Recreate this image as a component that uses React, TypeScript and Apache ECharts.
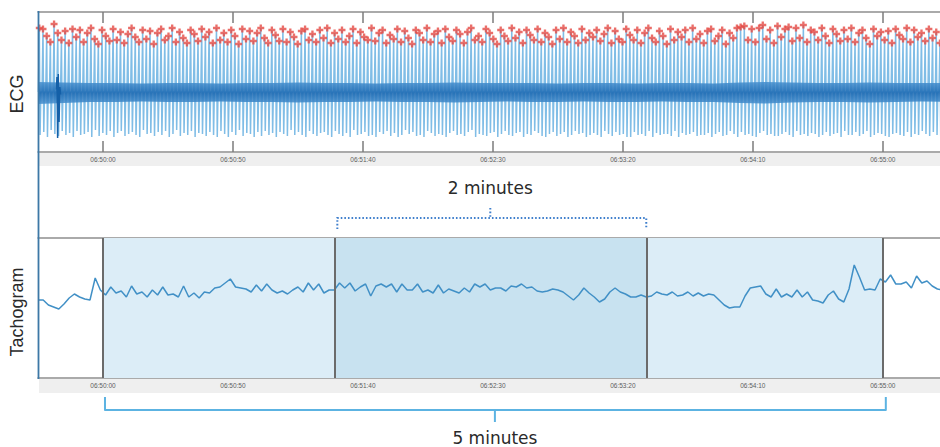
import React, { useEffect, useRef } from "react";
import * as echarts from "echarts";

// ---------- time axis (clock times) ----------
const axisOrigin = "06:50:00";
const viewStart = "06:49:35";
const viewEnd = "06:55:22";
const tickLabels = ["06:50:00", "06:50:50", "06:51:40", "06:52:30", "06:53:20", "06:54:10", "06:55:00"];
const fiveMinWindow = ["06:50:00", "06:55:00"];
const twoMinWindow = ["06:51:29", "06:53:29"];
const bracketLabels = ["2 minutes", "5 minutes"];
const panelNames = ["ECG", "Tachogram"];

// ---------- ECG (beats, mV x100) ----------
const ecgFirstBeat = 0.5; // s after view start
const ecgBeatInterval = 1.42; // s
const ecgR = [
  128, 126, 112, 100, 136, 118, 104, 122, 98, 126,
  110, 124, 100, 118, 128, 106, 96, 124, 112, 102,
  126, 104, 120, 98, 116, 128, 110, 100, 124, 106,
  122, 96, 118, 126, 104, 112, 128, 100, 120, 108,
  98, 124, 116, 102, 126, 110, 120, 98, 128, 104,
  118, 100, 124, 112, 96, 126, 106, 122, 102, 118,
  128, 108, 98, 124, 114, 102, 126, 100, 120, 110,
  96, 122, 126, 104, 116, 100, 124, 108, 128, 98,
  118, 106, 124, 100, 112, 126, 98, 120, 110, 104,
  128, 102, 118, 124, 98, 114, 106, 126, 100, 122,
  108, 96, 124, 118, 104, 128, 100, 116, 122, 98,
  126, 110, 102, 124, 116, 98, 120, 128, 104, 112,
  100, 126, 118, 106, 96, 124, 112, 102, 128, 108,
  120, 98, 124, 114, 104, 126, 100, 118, 110, 96,
  124, 106, 128, 100, 120, 112, 98, 126, 104, 118,
  110, 124, 102, 116, 128, 98, 122, 106, 100, 126,
  114, 104, 124, 98, 118, 128, 108, 100, 122, 112,
  96, 126, 104, 120, 110, 124, 100, 128, 106, 116,
  98, 122, 126, 102, 112, 124, 96, 118, 108, 128,
  130, 132, 104, 126, 100, 128, 134, 106, 124, 98,
  132, 110, 126, 130, 102, 128, 108, 134, 100, 124,
  120, 104, 128, 112, 98, 126, 116, 102, 124, 106,
  128, 100, 118, 124, 108, 96, 126, 112, 120, 104,
  122, 98, 126, 114, 106, 128, 100, 124, 110, 118,
  102, 126, 108, 120, 98,
];
const ecgS = [
  -86, -80, -90, -76, -84, -88, -78, -86, -82, -90,
  -78, -86, -84, -80, -90, -76, -88, -82, -86, -78,
  -90, -82, -78, -88, -84, -80, -86, -90, -76, -84,
  -82, -88, -80, -86, -78, -90, -84, -76, -88, -82,
  -86, -78, -90, -82, -84, -88, -80, -86, -90, -78,
  -84, -90, -80, -86, -76, -88, -82, -84, -90, -80,
  -88, -78, -86, -82, -90, -80, -84, -88, -76, -86,
  -80, -86, -90, -78, -84, -88, -82, -80, -86, -90,
  -78, -84, -88, -82, -90, -76, -86, -84, -80, -88,
  -86, -90, -80, -84, -78, -88, -82, -90, -86, -76,
  -84, -80, -88, -86, -90, -78, -82, -88, -84, -86,
  -90, -82, -78, -86, -84, -88, -80, -76, -90, -84,
  -86, -88, -82, -80, -90, -84, -78, -86, -88, -82,
  -80, -90, -84, -86, -78, -82, -88, -90, -84, -80,
  -88, -84, -80, -90, -86, -78, -84, -82, -90, -86,
  -82, -86, -90, -78, -84, -88, -80, -86, -84, -90,
  -90, -80, -86, -84, -88, -78, -90, -82, -86, -84,
  -84, -88, -78, -90, -82, -86, -84, -80, -88, -86,
  -86, -82, -90, -84, -80, -88, -86, -78, -84, -90,
  -80, -86, -84, -88, -90, -82, -78, -86, -84, -88,
  -88, -84, -80, -86, -90, -78, -86, -84, -88, -82,
  -84, -90, -86, -80, -88, -84, -82, -90, -78, -86,
  -86, -80, -88, -84, -78, -90, -86, -82, -84, -88,
  -90, -84, -82, -86, -88, -80, -90, -84, -86, -78,
  -84, -88, -80, -86, -90,
];
// baseline noise envelope, every 10 s from view start (mV x100)
const bandStep = 10;
const bandHi = [20, 19, 18, 18, 17, 18, 18, 17, 18, 18, 19, 18, 18, 17, 18, 18, 19, 18, 18, 18, 17, 18, 18, 17, 18, 18, 17, 19, 20, 19, 18, 18, 19, 18, 18, 18];
const bandLo = [-24, -22, -20, -20, -19, -20, -20, -19, -20, -20, -21, -20, -20, -19, -20, -20, -21, -20, -19, -20, -20, -19, -20, -20, -19, -20, -20, -22, -23, -21, -20, -20, -21, -20, -19, -20];
// motion artifact near the start: [s from 06:50:00, mV]
const ecgArtifact = [[-17.9, 0.05], [-17.7, 0.3], [-17.45, -0.92], [-17.2, 0.36], [-16.9, -0.6], [-16.6, 0.1], [-16.3, -0.05]];

// ---------- Tachogram (every 2 s from view start) ----------
const tachoStep = 2;
const tachoValues = [
  78, 78, 73, 71, 69, 74, 80, 84, 81, 79,
  78, 100, 88, 83, 91, 85, 87, 81, 92, 84,
  86, 81, 88, 83, 91, 83, 84, 81, 92, 81,
  85, 80, 86, 85, 90, 91, 95, 99, 91, 90,
  89, 86, 93, 87, 94, 88, 85, 87, 84, 88,
  91, 86, 95, 88, 94, 85, 88, 88, 95, 90,
  95, 87, 91, 94, 82, 92, 94, 91, 94, 86,
  94, 88, 88, 94, 86, 88, 85, 93, 85, 89,
  87, 85, 90, 86, 94, 91, 94, 88, 90, 90,
  87, 92, 91, 94, 90, 91, 87, 86, 87, 89,
  88, 86, 82, 78, 83, 90, 85, 81, 76, 79,
  86, 90, 86, 84, 81, 81, 83, 81, 82, 86,
  84, 83, 86, 82, 83, 86, 82, 85, 82, 84,
  83, 78, 73, 70, 71, 71, 82, 90, 91, 92,
  84, 81, 89, 81, 84, 81, 88, 81, 86, 78,
  77, 75, 83, 87, 79, 76, 89, 113, 101, 88,
  89, 88, 99, 96, 103, 94, 94, 96, 90, 102,
  95, 97, 92, 89, 88,
];

const FONT = "'Liberation Sans', Arial, Helvetica, sans-serif";
const FONT_BR = "'DejaVu Sans', Verdana, sans-serif";

function toSec(s: string) {
  const [h, m, x] = s.split(":").map(Number);
  return h * 3600 + m * 60 + x;
}
const rel = (s: string) => toSec(s) - toSec(axisOrigin);
const pad = (n: number) => String(n).padStart(2, "0");
function fmt(v: number) {
  const tot = toSec(axisOrigin) + Math.round(v);
  return `${pad(Math.floor(tot / 3600))}:${pad(Math.floor((tot % 3600) / 60))}:${pad(tot % 60)}`;
}

export default function App() {
  const ref = useRef<HTMLDivElement>(null);
  useEffect(() => {
    if (!ref.current) return;
    const chart = echarts.init(ref.current, null, { renderer: "svg" });

    const L = 38;
    const ECG_TOP = 12;
    const TACHO_TOP = 238;
    const H = 140;

    const xMin = rel(viewStart);
    const xMax = rel(viewEnd);
    const ticks = tickLabels.map(rel);

    const ecgLine: number[][] = [];
    const ecgPeaks: number[][] = [];
    ecgR.forEach((r, i) => {
      const t = xMin + ecgFirstBeat + i * ecgBeatInterval;
      ecgLine.push([t - 0.35, 0], [t, r / 100], [t + 0.3, ecgS[i] / 100], [t + 0.6, 0]);
      ecgPeaks.push([t, r / 100]);
    });
    const bandData = bandLo.map((v, i) => [xMin + i * bandStep, v / 100, bandHi[i] / 100]);
    const tacho = tachoValues.map((v, i) => [xMin + i * tachoStep, v]);

    const bandFill = new echarts.graphic.LinearGradient(0, 0, 0, 1, [
      { offset: 0, color: "#4790cf" },
      { offset: 0.5, color: "#1866b0" },
      { offset: 1, color: "#4790cf" },
    ]);

    const mkX = (gridIndex: number, position: string, showLabel: boolean) => ({
      type: "value",
      gridIndex,
      position,
      min: xMin,
      max: xMax,
      axisLine: { show: true, onZero: false, lineStyle: { color: "#8e8e8e", width: 1.5 } },
      axisTick: {
        show: true,
        inside: true,
        length: 11,
        customValues: ticks,
        lineStyle: { color: "#7b7b7b", width: 1.5 },
      },
      axisLabel: {
        show: showLabel,
        customValues: ticks,
        formatter: fmt,
        fontSize: 6.5,
        color: "#5e5e5e",
        margin: 4,
        fontFamily: FONT,
      },
      splitLine: { show: false },
    });
    const mkY = (gridIndex: number, min: number, max: number) => ({
      type: "value",
      gridIndex,
      min,
      max,
      axisLine: { show: false },
      axisTick: { show: false },
      axisLabel: { show: false },
      splitLine: { show: false },
    });

    const option: any = {
      animation: false,
      backgroundColor: "#ffffff",
      grid: [
        { left: L, top: ECG_TOP, right: 0, height: H },
        { left: L, top: TACHO_TOP, right: 0, height: H },
      ],
      xAxis: [mkX(0, "bottom", true), mkX(0, "top", false), mkX(1, "bottom", true), mkX(1, "top", false)],
      yAxis: [mkY(0, -1.2, 1.6), mkY(1, 0, 140)],
      series: [
        {
          type: "line",
          xAxisIndex: 0,
          yAxisIndex: 0,
          data: ecgLine,
          showSymbol: false,
          lineStyle: { color: "#80bde6", width: 1.5 },
          silent: true,
          z: 1,
        },
        {
          type: "custom",
          xAxisIndex: 0,
          yAxisIndex: 0,
          data: bandData,
          encode: { x: 0, y: [1, 2] },
          clip: true,
          silent: true,
          z: 2,
          renderItem: (params: any, api: any) => {
            if (params.dataIndex !== 0) return { type: "group", children: [] };
            const up = bandData.map((d) => api.coord([d[0], d[2]]));
            const dn = bandData.map((d) => api.coord([d[0], d[1]])).reverse();
            return {
              type: "polygon",
              shape: { points: up.concat(dn) },
              style: { fill: bandFill, opacity: 0.85 },
            };
          },
        },
        {
          type: "line",
          xAxisIndex: 0,
          yAxisIndex: 0,
          data: ecgArtifact,
          showSymbol: false,
          lineStyle: { color: "#1460a8", width: 1.5 },
          silent: true,
          z: 3,
        },
        {
          type: "scatter",
          xAxisIndex: 0,
          yAxisIndex: 0,
          data: ecgPeaks,
          symbol: "path://M2,0H4V2H6V4H4V6H2V4H0V2H2Z",
          symbolSize: 7,
          itemStyle: { color: "#e54a43" },
          silent: true,
          z: 4,
        },
        {
          type: "line",
          xAxisIndex: 2,
          yAxisIndex: 1,
          data: tacho,
          showSymbol: false,
          lineStyle: { color: "#4190c6", width: 1.5 },
          silent: true,
          z: 3,
          markArea: {
            silent: true,
            data: [
              [{ xAxis: rel(fiveMinWindow[0]), itemStyle: { color: "#dcedf7", opacity: 1 } }, { xAxis: rel(fiveMinWindow[1]) }],
              [{ xAxis: rel(twoMinWindow[0]), itemStyle: { color: "#c8e2f0", opacity: 1 } }, { xAxis: rel(twoMinWindow[1]) }],
            ],
          },
          markLine: {
            silent: true,
            symbol: ["none", "none"],
            label: { show: false },
            lineStyle: { color: "#6b6b6b", width: 2, type: "solid" },
            data: [
              { xAxis: rel(fiveMinWindow[0]) },
              { xAxis: rel(twoMinWindow[0]) },
              { xAxis: rel(twoMinWindow[1]) },
              { xAxis: rel(fiveMinWindow[1]) },
            ],
          },
        },
      ],
    };
    chart.setOption(option);

    const px = (v: number) => chart.convertToPixel({ xAxisIndex: 2 }, v) as number;
    const a2 = px(rel(twoMinWindow[0]));
    const b2 = px(rel(twoMinWindow[1]));
    const a5 = px(rel(fiveMinWindow[0]));
    const b5 = px(rel(fiveMinWindow[1]));
    const m2 = (a2 + b2) / 2;
    const m5 = (a5 + b5) / 2;
    const W = chart.getWidth();

    const dotted = { stroke: "#3f7fcc", lineWidth: 2, lineDash: [1.6, 2] };
    const solid = { stroke: "#5cb3e2", lineWidth: 2, fill: null, lineJoin: "round" };
    const label = (text: string, x: number, y: number, size: number, family: string, rotation = 0) => ({
      type: "text",
      z: 50,
      x,
      y,
      rotation,
      style: {
        text,
        x: 0,
        y: 0,
        align: "center",
        verticalAlign: "middle",
        textAlign: "center",
        textVerticalAlign: "middle",
        fontSize: size,
        fontFamily: family,
        fill: "#2a2a2a",
      },
      silent: true,
    });

    chart.setOption({
      graphic: [
        { type: "rect", z: -10, shape: { x: L + 1, y: ECG_TOP + H + 1, width: W - L, height: 13 }, style: { fill: "#efefef" }, silent: true },
        { type: "rect", z: -10, shape: { x: L + 1, y: TACHO_TOP + H + 1, width: W - L, height: 14 }, style: { fill: "#efefef" }, silent: true },
        { type: "line", z: 50, shape: { x1: L + 0.5, y1: ECG_TOP - 1, x2: L + 0.5, y2: TACHO_TOP + H + 1 }, style: { stroke: "#3d78a6", lineWidth: 1.8 }, silent: true },
        label(panelNames[0], 17, 94, 18, FONT, Math.PI / 2),
        label(panelNames[1], 17, 312, 18, FONT, Math.PI / 2),
        // 2-minute dotted bracket
        { type: "polyline", z: 50, shape: { points: [[a2 + 3, 229], [a2 + 3, 218], [b2, 218], [b2, 229]] }, style: { ...dotted, fill: null }, silent: true },
        { type: "line", z: 50, shape: { x1: m2, y1: 208, x2: m2, y2: 218 }, style: dotted, silent: true },
        label(bracketLabels[0], m2, 188, 17, FONT_BR),
        // 5-minute solid bracket
        { type: "polyline", z: 50, shape: { points: [[a5 + 2, 397], [a5 + 2, 410], [b5 + 3, 410], [b5 + 3, 397]] }, style: solid, silent: true },
        { type: "line", z: 50, shape: { x1: m5 + 2, y1: 410, x2: m5 + 2, y2: 422 }, style: { stroke: "#5cb3e2", lineWidth: 2 }, silent: true },
        label(bracketLabels[1], m5 + 2, 438, 17, FONT_BR),
      ],
    });

    return () => chart.dispose();
  }, []);
  return <div ref={ref} style={{ position: "fixed", left: 0, top: 0, width: 940, height: 447 }} />;
}
